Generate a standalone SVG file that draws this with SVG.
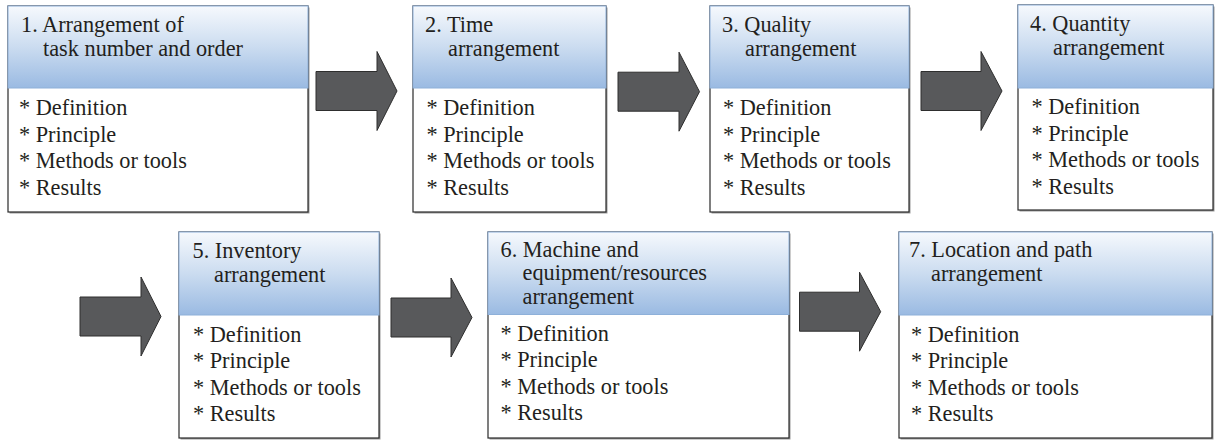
<svg xmlns="http://www.w3.org/2000/svg" width="1216" height="440" viewBox="0 0 1216 440">
<defs>
<linearGradient id="hg" x1="0" y1="0" x2="0" y2="1">
<stop offset="0" stop-color="#f6f9fd"/>
<stop offset="0.5" stop-color="#cbdcf0"/>
<stop offset="1" stop-color="#9abae2"/>
</linearGradient>
<style>
.body{fill:#ffffff;stroke:#2a2a2a;stroke-width:1.2}
.shadow{fill:#9a9a9a}
.head{fill:url(#hg);stroke:#8eb0d9;stroke-width:1}
text{font-family:'Liberation Serif','Times New Roman',serif;font-size:22.3px;fill:#231f20}
.arrow{fill:#58595b;stroke:#2e2e2e;stroke-width:1}
</style>
</defs>
<g id="connectors">
<polygon class="arrow" points="316,71.5 377,71.5 377,51.5 397,91 377,130.5 377,110.5 316,110.5"/>
<polygon class="arrow" points="618,72.2 679,72.2 679,52.2 699.5,91.7 679,131.2 679,111.2 618,111.2"/>
<polygon class="arrow" points="921,71.5 981,71.5 981,51.5 1002,91 981,130.5 981,110.5 921,110.5"/>
<polygon class="arrow" points="80,297 141,297 141,277 161,316.5 141,356 141,336 80,336"/>
<polygon class="arrow" points="391,298 451,298 451,278 472,317.5 451,357 451,337 391,337"/>
<polygon class="arrow" points="799.5,292.2 859.5,292.2 859.5,272.2 880.7,311.7 859.5,351.2 859.5,331.2 799.5,331.2"/>
</g>
<g font-family="'Liberation Serif','Times New Roman',serif" font-size="22.3">
<g id="node1">
<rect class="shadow" x="9.5" y="7.5" width="300" height="206"/>
<rect class="body" x="8" y="6" width="300" height="206"/>
<rect class="head" x="8" y="6" width="300" height="82"/>
<text x="21" y="32">1. Arrangement of</text>
<text x="43" y="56">task number and order</text>
<text x="19" y="115">* Definition</text>
<text x="19" y="141.5">* Principle</text>
<text x="19" y="168">* Methods or tools</text>
<text x="19" y="194.5">* Results</text>
</g>
<g id="node2">
<rect class="shadow" x="414.5" y="7.5" width="193" height="206"/>
<rect class="body" x="413" y="6" width="193" height="206"/>
<rect class="head" x="413" y="6" width="193" height="82"/>
<text x="425" y="32">2. Time</text>
<text x="448" y="56">arrangement</text>
<text x="426.5" y="115">* Definition</text>
<text x="426.5" y="141.5">* Principle</text>
<text x="426.5" y="168">* Methods or tools</text>
<text x="426.5" y="194.5">* Results</text>
</g>
<g id="node3">
<rect class="shadow" x="711.5" y="7.5" width="199" height="206"/>
<rect class="body" x="710" y="6" width="199" height="206"/>
<rect class="head" x="710" y="6" width="199" height="82"/>
<text x="722" y="32">3. Quality</text>
<text x="745" y="56">arrangement</text>
<text x="723" y="115">* Definition</text>
<text x="723" y="141.5">* Principle</text>
<text x="723" y="168">* Methods or tools</text>
<text x="723" y="194.5">* Results</text>
</g>
<g id="node4">
<rect class="shadow" x="1019.5" y="6.5" width="195" height="205"/>
<rect class="body" x="1018" y="5" width="195" height="205"/>
<rect class="head" x="1018" y="5" width="195" height="83"/>
<text x="1030" y="31">4. Quantity</text>
<text x="1053" y="54.5">arrangement</text>
<text x="1031.5" y="114">* Definition</text>
<text x="1031.5" y="140.5">* Principle</text>
<text x="1031.5" y="167">* Methods or tools</text>
<text x="1031.5" y="193.5">* Results</text>
</g>
<g id="node5">
<rect class="shadow" x="180.5" y="233.5" width="200" height="206"/>
<rect class="body" x="179" y="232" width="200" height="206"/>
<rect class="head" x="179" y="232" width="200" height="83"/>
<text x="192.5" y="258">5. Inventory</text>
<text x="214" y="281.5">arrangement</text>
<text x="193" y="341.5">* Definition</text>
<text x="193" y="368">* Principle</text>
<text x="193" y="394.5">* Methods or tools</text>
<text x="193" y="421">* Results</text>
</g>
<g id="node6">
<rect class="shadow" x="489.5" y="233.5" width="301" height="206"/>
<rect class="body" x="488" y="232" width="301" height="206"/>
<rect class="head" x="488" y="232" width="301" height="82.5"/>
<text x="500.5" y="256.5">6. Machine and</text>
<text x="522.5" y="280">equipment/resources</text>
<text x="522.5" y="303.5">arrangement</text>
<text x="500.5" y="340.5">* Definition</text>
<text x="500.5" y="367">* Principle</text>
<text x="500.5" y="393.5">* Methods or tools</text>
<text x="500.5" y="420">* Results</text>
</g>
<g id="node7">
<rect class="shadow" x="900.5" y="233.5" width="313" height="206"/>
<rect class="body" x="899" y="232" width="313" height="206"/>
<rect class="head" x="899" y="232" width="313" height="83"/>
<text x="909" y="257">7. Location and path</text>
<text x="931" y="280.5">arrangement</text>
<text x="911" y="341.5">* Definition</text>
<text x="911" y="368">* Principle</text>
<text x="911" y="394.5">* Methods or tools</text>
<text x="911" y="421">* Results</text>
</g>
</g>
</svg>
